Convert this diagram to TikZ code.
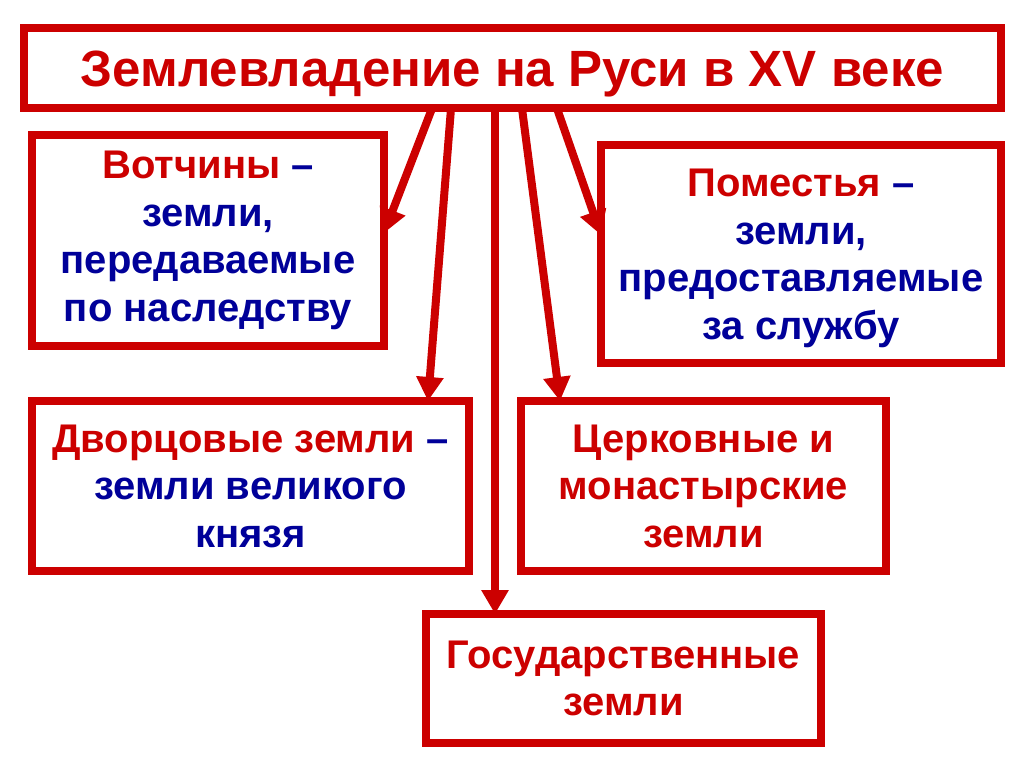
\documentclass[tikz,border=0pt]{standalone}
\usepackage{fontspec}
\setmainfont{Liberation Sans}
\usetikzlibrary{arrows.meta}
\definecolor{slidered}{RGB}{204,0,0}
\definecolor{slideblue}{RGB}{0,0,153}

\begin{document}
\begin{tikzpicture}[x=1pt,y=-1pt,
    landbox/.style={draw=slidered,line width=8pt,inner sep=0pt,outer sep=0pt,
        align=center,font=\bfseries\fontsize{40}{47.5}\selectfont},
    landarrow/.style={draw=slidered,fill=slidered,line width=8pt,
        -{Triangle[length=24pt,width=26pt]}}]
        %% Frame
        \useasboundingbox (0,0) rectangle (1024,767);
        %% Title
        \node[landbox,minimum width=977pt,minimum height=80pt,text=slidered,
            text depth=0pt,font=\bfseries\fontsize{51}{58}\selectfont]
            (title) at (512.5,68.5) {Землевладение на Руси в XV веке};
        %% Kinds of land
        \node[landbox,minimum width=352pt,minimum height=211pt,text=slideblue]
            (votchiny) at (208,240.5)
            {\textcolor{slidered}{Вотчины} –\\земли,\\передаваемые\\по наследству};
        \node[landbox,minimum width=400pt,minimum height=218pt,text=slideblue,
            text depth=0pt] (pomestya) at (801,254)
            {\textcolor{slidered}{Поместья} –\\земли,\\предоставляемые\\за службу};
        \node[landbox,minimum width=437pt,minimum height=170pt,text=slideblue]
            (dvorts) at (250.5,486)
            {\textcolor{slidered}{Дворцовые земли} –\\земли великого\\князя};
        \node[landbox,minimum width=365pt,minimum height=170pt,text=slidered]
            (tserkov) at (703.5,486)
            {Церковные и\\монастырские\\земли};
        \node[landbox,minimum width=395pt,minimum height=129pt,text=slidered]
            (gosud) at (623.5,678.5)
            {Государственные\\земли};
        %% Arrows
        \draw[landarrow] ([xshift=-80.5pt]title.south) -- ([yshift=7.5pt]votchiny.east);
        \draw[landarrow] ([xshift=-61.5pt]title.south) -- ([xshift=177.5pt]dvorts.north);
        \draw[landarrow] ([xshift=-17.5pt]title.south) -- ([xshift=-128.5pt]gosud.north);
        \draw[landarrow] ([xshift=9.5pt]title.south) -- ([xshift=-143.5pt]tserkov.north);
        \draw[landarrow] ([xshift=44.5pt]title.south) -- ([yshift=19pt]pomestya.west);
    \end{tikzpicture}
\end{document}
